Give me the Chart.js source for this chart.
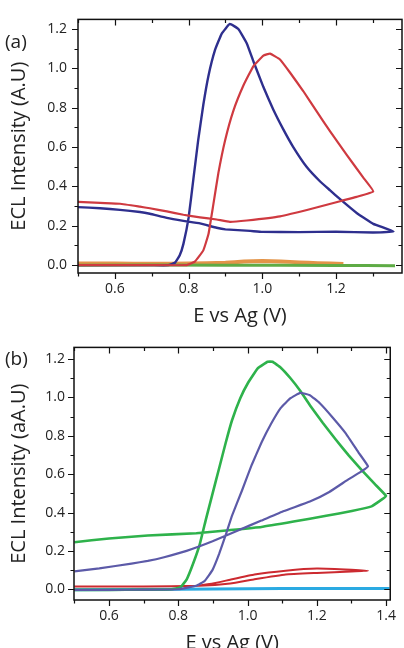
<!DOCTYPE html>
<html>
<head>
<meta charset="utf-8">
<script src="https://cdn.jsdelivr.net/npm/chart.js@4"></script>
<style>
  html, body { margin: 0; padding: 0; background: #fff; overflow: hidden; width: 404px; height: 648px; }
  .panel { position: absolute; left: 0; }
  .tag { position: absolute; font: 19px "Open Sans", sans-serif; color: #222; }
</style>
</head>
<body>
<div class="panel" style="top:0"><canvas id="graphA" width="404" height="330"></canvas></div>
<div class="panel" style="top:330px"><canvas id="graphB" width="404" height="340"></canvas></div>
<div class="tag" style="left:5px; top:28px">(a)</div>
<div class="tag" style="left:5px; top:345px">(b)</div>
<script>
// panel (a)
const aBlueE = [0.50,0.60,0.70,0.745,0.763,0.776,0.786,0.80,0.813,0.826,0.84,0.854,0.872,0.89,0.912,0.935,0.958,0.976,1.003,1.03,1.057,1.084,1.12,1.157,1.184,1.211,1.256,1.301,1.356,1.30,1.20,1.10,1.00,0.967,0.90,0.876,0.831,0.786,0.741,0.695,0.668,0.614,0.56,0.50]
const aBlueI = [0.0,0.0,0.0,0.0,0.012,0.05,0.108,0.24,0.437,0.634,0.815,0.963,1.095,1.177,1.226,1.20,1.127,1.035,0.905,0.79,0.69,0.6,0.5,0.425,0.38,0.335,0.265,0.21,0.171,0.166,0.17,0.168,0.169,0.174,0.182,0.19,0.212,0.225,0.24,0.261,0.27,0.281,0.289,0.295]
const aRedE = [0.50,0.60,0.70,0.795,0.817,0.84,0.854,0.867,0.881,0.899,0.921,0.949,0.976,1.003,1.021,1.048,1.075,1.111,1.148,1.184,1.229,1.274,1.301,1.256,1.211,1.139,1.048,0.958,0.912,0.876,0.831,0.786,0.741,0.695,0.668,0.614,0.56,0.50]
const aRedI = [0.0,0.0,0.0,0.0,0.018,0.075,0.158,0.306,0.47,0.634,0.782,0.914,1.012,1.065,1.075,1.045,0.979,0.885,0.78,0.68,0.56,0.445,0.375,0.347,0.325,0.289,0.248,0.227,0.22,0.232,0.243,0.256,0.273,0.289,0.297,0.312,0.316,0.322]
const aOrangeE = [0.5,0.6,0.7,0.8,0.9,0.95,1.0,1.05,1.1,1.15,1.22]
const aOrangeI = [0.008,0.008,0.007,0.008,0.012,0.018,0.021,0.019,0.014,0.01,0.006]
const aGreenE = [0.5,0.9,1.2,1.36]
const aGreenI = [0.0,0.0,-0.002,-0.003]

// panel (b)
const bGreenE = [0.50,0.60,0.70,0.78,0.806,0.824,0.843,0.862,0.88,0.899,0.918,0.937,0.955,0.979,1.002,1.03,1.058,1.072,1.096,1.124,1.152,1.18,1.217,1.254,1.292,1.329,1.367,1.40,1.386,1.358,1.301,1.227,1.133,1.04,0.946,0.852,0.712,0.60,0.50]
const bGreenI = [-0.003,-0.003,-0.002,0.0,0.01,0.05,0.134,0.234,0.366,0.499,0.631,0.764,0.88,0.996,1.078,1.153,1.186,1.186,1.155,1.1,1.035,0.96,0.868,0.782,0.698,0.623,0.549,0.486,0.466,0.432,0.408,0.383,0.353,0.325,0.308,0.292,0.28,0.265,0.245]
const bPurpleE = [0.50,0.60,0.70,0.80,0.852,0.876,0.899,0.918,0.937,0.955,0.984,1.012,1.04,1.068,1.096,1.124,1.152,1.18,1.208,1.245,1.283,1.32,1.348,1.329,1.292,1.236,1.18,1.105,1.04,0.974,0.899,0.824,0.759,0.712,0.665,0.572,0.50]
const bPurpleI = [-0.003,-0.003,-0.002,0.0,0.018,0.043,0.101,0.184,0.283,0.383,0.515,0.648,0.764,0.863,0.946,0.996,1.024,1.012,0.971,0.897,0.814,0.714,0.64,0.615,0.574,0.507,0.457,0.408,0.358,0.308,0.25,0.2,0.167,0.148,0.134,0.109,0.093]
const bRedE = [0.50,0.70,0.86,0.95,1.02,1.11,1.2,1.3,1.348,1.3,1.2,1.11,1.02,0.95,0.90,0.86]
const bRedI = [0.015,0.015,0.018,0.03,0.052,0.077,0.085,0.093,0.096,0.102,0.108,0.097,0.077,0.05,0.03,0.02]
const bCyanE = [0.5,0.8,1.0,1.2,1.41]
const bCyanI = [-0.002,0.0,0.003,0.004,0.004]

const xTicksA = [0.6, 0.8, 1.0, 1.2]
const xTicksB = [0.6, 0.8, 1.0, 1.2, 1.4]
const yTicks = [0.0, 0.2, 0.4, 0.6, 0.8, 1.0, 1.2]

const pts = (E, I) => E.map((e, i) => ({x: e, y: I[i]}))

const line = (label, E, I, color, w) => ({
  label: label,
  data: pts(E, I),
  borderColor: color,
  borderWidth: w,
  showLine: true,
  pointRadius: 0,
  tension: 0.1,
  fill: false
})

// frame with minor ticks, outside on left/bottom, inside on top/right
const frame = {
  id: 'frame',
  afterDatasetsDraw(chart) {
    const {ctx, chartArea: a, scales: {x, y}} = chart
    ctx.save()
    ctx.strokeStyle = '#111'
    ctx.lineWidth = 1.5
    ctx.strokeRect(a.left, a.top, a.right - a.left, a.bottom - a.top)
    ctx.lineWidth = 1.2
    ctx.beginPath()
    for (let k = 5; k <= 14; k++) {
      const v = k / 10
      if (v > x.max + 1e-6) break
      const px = Math.round(x.getPixelForValue(v)) + 0.5
      const len = k % 2 == 0 ? 6 : 3.5
      ctx.moveTo(px, a.bottom); ctx.lineTo(px, a.bottom + len)
      ctx.moveTo(px, a.top); ctx.lineTo(px, a.top + len)
    }
    for (let k = 0; k <= 12; k++) {
      const v = k / 10
      const py = Math.round(y.getPixelForValue(v)) + 0.5
      const len = k % 2 == 0 ? 6 : 3.5
      ctx.moveTo(a.left, py); ctx.lineTo(a.left - len, py)
      ctx.moveTo(a.right, py); ctx.lineTo(a.right - len, py)
    }
    ctx.stroke()
    ctx.restore()
  }
}

const font = '"Open Sans", sans-serif'

function makeOptions(o) {
  return {
    responsive: false,
    animation: false,
    layout: { autoPadding: false, padding: { left: 0, right: o.padRight, top: o.padTop, bottom: 0 } },
    plugins: { legend: { display: false }, tooltip: { enabled: false } },
    scales: {
      x: {
        type: 'linear',
        min: o.xmin, max: o.xmax,
        afterBuildTicks: s => { s.ticks = o.xticks.map(v => ({value: v})) },
        afterFit: s => { s.height = o.xh },
        grid: { display: false, drawTicks: false },
        border: { display: false },
        ticks: { padding: 8, color: '#222', font: { family: font, size: 14 }, callback: v => v.toFixed(1) },
        title: { display: true, text: 'E vs Ag (V)', color: '#222', font: { family: font, size: 20 }, padding: { top: 0, bottom: o.xtitlePad } }
      },
      y: {
        type: 'linear',
        min: o.ymin, max: o.ymax,
        afterBuildTicks: s => { s.ticks = yTicks.map(v => ({value: v})) },
        afterFit: s => { s.width = o.yw },
        grid: { display: false, drawTicks: false },
        border: { display: false },
        ticks: { padding: o.ypad, color: '#222', font: { family: font, size: 14 }, callback: v => v.toFixed(1) },
        title: { display: true, text: o.ytitle, color: '#222', font: { family: font, size: 20 }, padding: { top: 7, bottom: 0 } }
      }
    }
  }
}

new Chart(document.getElementById('graphA'), {
  type: 'scatter',
  data: {
    datasets: [
      line('red', aRedE, aRedI, '#cf3a40', 2.2),
      line('blue', aBlueE, aBlueI, '#2e2f8e', 2.4),
      line('green', aGreenE, aGreenI, '#5eab45', 3),
      line('orange', aOrangeE, aOrangeI, '#e39448', 4)
    ]
  },
  options: makeOptions({
    padRight: 2, padTop: 12, xh: 57, yw: 78, ypad: 11, xtitlePad: 2,
    xmin: 0.5, xmax: 1.379, ymin: -0.04, ymax: 1.249,
    xticks: xTicksA, ytitle: 'ECL Intensity (A.U)'
  }),
  plugins: [frame]
})

new Chart(document.getElementById('graphB'), {
  type: 'scatter',
  data: {
    datasets: [
      line('purple', bPurpleE, bPurpleI, '#5c5aa8', 2.2),
      line('green', bGreenE, bGreenI, '#2eb24b', 2.6),
      line('red', bRedE, bRedI, '#cc2a30', 2),
      line('cyan', bCyanE, bCyanI, '#2aaae2', 3)
    ]
  },
  options: makeOptions({
    padRight: 5, padTop: 5, xh: 70, yw: 74, ypad: 9, xtitlePad: 15,
    xmin: 0.499, xmax: 1.412, ymin: -0.056, ymax: 1.261,
    xticks: xTicksB, ytitle: 'ECL Intensity (aA.U)'
  }),
  plugins: [frame]
})
</script>
</body>
</html>
